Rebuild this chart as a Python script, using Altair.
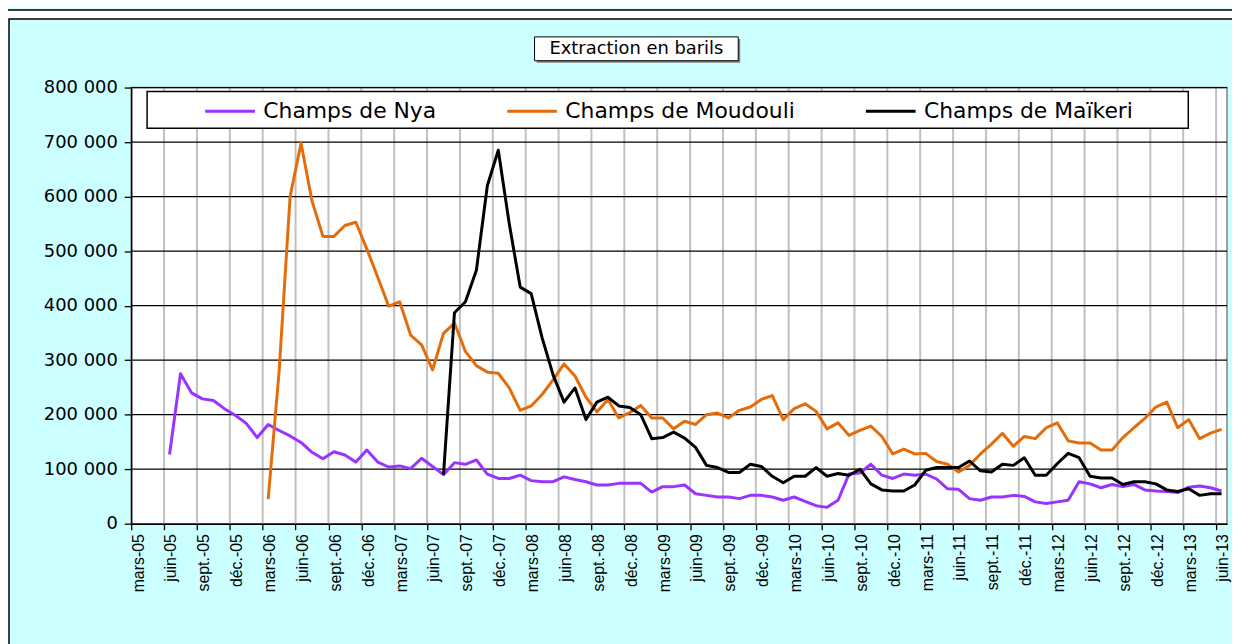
import json
import altair as alt
import pandas as pd

# ---------------- data (values in thousands of barrels) ----------------
tick_labels = [
    "mars-05", "juin-05", "sept.-05", "déc.-05",
    "mars-06", "juin-06", "sept.-06", "déc.-06",
    "mars-07", "juin-07", "sept.-07", "déc.-07",
    "mars-08", "juin-08", "sept.-08", "déc.-08",
    "mars-09", "juin-09", "sept.-09", "déc.-09",
    "mars-10", "juin-10", "sept.-10", "déc.-10",
    "mars-11", "juin-11", "sept.-11", "déc.-11",
    "mars-12", "juin-12", "sept.-12", "déc.-12",
    "mars-13", "juin-13",
]
series = ["Champs de Nya", "Champs de Moudouli", "Champs de Maïkeri"]
colors = ["#9933FF", "#E46C0A", "#000000"]

# month index (0 = mars-05) of the first value of each series
nya_start = 3
nya = [127, 275, 240, 229, 226, 211, 199, 184, 158, 182,
       171, 161, 149, 131, 119, 132, 126, 113, 135, 113,
       104, 106, 101, 120, 105, 90, 112, 109, 117, 91,
       83, 83, 89, 79, 77, 77, 86, 81, 77, 71,
       71, 74, 74, 74, 58, 68, 68, 71, 55, 52,
       49, 49, 46, 52, 52, 49, 43, 49, 41, 33,
       30, 43, 91, 93, 109, 89, 83, 91, 89, 91,
       82, 64, 63, 46, 43, 49, 49, 52, 50, 40,
       37, 40, 43, 77, 73, 66, 72, 68, 72, 62,
       60, 59, 57, 67, 69, 66, 60]

moudouli_start = 12
moudouli = [45, 280, 600, 698, 592, 527, 527, 547, 553, 504,
            452, 399, 407, 346, 328, 282, 349, 368, 316, 290,
            278, 276, 249, 208, 216, 237, 264, 293, 271, 232,
            205, 228, 194, 204, 217, 194, 194, 174, 188, 182,
            200, 203, 194, 208, 214, 228, 235, 191, 211, 220,
            206, 174, 185, 162, 171, 179, 160, 128, 137, 128,
            129, 114, 109, 95, 107, 128, 146, 166, 142, 160,
            156, 176, 185, 152, 148, 148, 135, 135, 158, 176,
            193, 214, 223, 176, 191, 156, 166, 173]

maikeri_start = 28
maikeri = [90, 387, 407, 465, 620, 685, 550, 434, 422, 341,
           273, 223, 249, 191, 223, 232, 216, 213, 200, 156,
           158, 168, 157, 140, 107, 103, 94, 94, 109, 105,
           87, 75, 87, 87, 103, 87, 92, 89, 100, 73,
           62, 60, 60, 71, 98, 103, 103, 103, 115, 97,
           95, 109, 107, 121, 89, 89, 110, 129, 121, 87,
           84, 84, 72, 77, 77, 73, 62, 59, 64, 52,
           55, 55]

y_ticks = [0, 100000, 200000, 300000, 400000, 500000, 600000, 700000, 800000]
chart_title = "Extraction en barils"

# ---------------- build tables ----------------
rows = []
for name, start, vals in [(series[0], nya_start, nya),
                          (series[1], moudouli_start, moudouli),
                          (series[2], maikeri_start, maikeri)]:
    for k, v in enumerate(vals):
        rows.append({"serie": name, "pos": start + k + 0.5, "barils": v * 1000})
df = pd.DataFrame(rows)

x_ticks = [3 * k for k in range(len(tick_labels))]
XMAX = 100
YMAX = y_ticks[-1]
W, H = 1103, 439

xscale = alt.Scale(domain=[0, XMAX], nice=False, zero=False)
yscale = alt.Scale(domain=[0, YMAX], nice=False)

label_expr = json.dumps(tick_labels, ensure_ascii=False) + "[round(datum.value/3)]"

x_axis = alt.Axis(values=x_ticks, labelExpr=label_expr, labelAngle=-90,
                  labelFont="Liberation Sans", labelFontSize=16, labelColor="black",
                  labelPadding=4, labelOffset=7, tickSize=6, tickColor="black", tickWidth=1.3,
                  domainColor="black", domainWidth=1.5, grid=False, zindex=1,
                  labelOverlap=False, labelBound=False, labelFlush=False, title=None)
y_axis = alt.Axis(values=y_ticks,
                  labelExpr="replace(format(datum.value, ','), ',', ' ')",
                  labelFont="DejaVu Sans", labelFontSize=18, labelColor="black",
                  labelPadding=7, tickSize=7, tickColor="black", tickWidth=1.3,
                  domainColor="black", domainWidth=1.5, grid=False, zindex=1,
                  labelOverlap=False, title=None)

one = pd.DataFrame({"k": [0]})

# ---------------- decorative frame ----------------
top_strip = alt.Chart(one).mark_rect(fill="#CCFFFF", stroke="black", strokeWidth=1.5).encode(
    x=alt.value(-130), x2=alt.value(1130), y=alt.value(-95), y2=alt.value(-78))
frame = alt.Chart(one).mark_rect(fill="#CCFFFF", stroke="black", strokeWidth=1.5).encode(
    x=alt.value(-123), x2=alt.value(1130), y=alt.value(-69), y2=alt.value(580))

plot_bg = alt.Chart(pd.DataFrame({"x0": [0], "x1": [XMAX], "y0": [0], "y1": [YMAX]})).mark_rect(
    fill="white", stroke="#808080", strokeWidth=1.5).encode(
    x=alt.X("x0:Q", scale=xscale, axis=x_axis), x2="x1",
    y=alt.Y("y0:Q", scale=yscale, axis=y_axis), y2="y1")

vgrid = alt.Chart(pd.DataFrame({"gx": x_ticks[1:]})).mark_rule(
    color="#C0C0C0", strokeWidth=2).encode(x=alt.X("gx:Q", scale=xscale, axis=x_axis))
hgrid = alt.Chart(pd.DataFrame({"gy": y_ticks[1:]})).mark_rule(
    color="black", strokeWidth=1.3).encode(y=alt.Y("gy:Q", scale=yscale, axis=y_axis))

lines = alt.Chart(df).mark_line(strokeWidth=3, strokeJoin="round").encode(
    x=alt.X("pos:Q", scale=xscale, axis=x_axis),
    y=alt.Y("barils:Q", scale=yscale, axis=y_axis),
    color=alt.Color("serie:N", title=None,
                    scale=alt.Scale(domain=series, range=colors),
                    legend=alt.Legend(orient="none", legendX=73, legendY=-3,
                                      direction="horizontal", columns=3, columnPadding=64,
                                      symbolType="stroke", symbolSize=2500, symbolStrokeWidth=3,
                                      labelFont="DejaVu Sans", labelFontSize=22,
                                      labelColor="black", labelOffset=7, padding=0,
                                      labelLimit=400)),
    order="pos:Q",
)

legend_box = alt.Chart(one).mark_rect(fill="white", stroke="black", strokeWidth=1.5).encode(
    x=alt.value(16), x2=alt.value(1064), y=alt.value(4), y2=alt.value(41))

title_shadow = alt.Chart(one).mark_rect(fill="#7F7F7F").encode(
    x=alt.value(408), x2=alt.value(613), y=alt.value(-49), y2=alt.value(-25))
title_box = alt.Chart(one).mark_rect(fill="white", stroke="black", strokeWidth=1).encode(
    x=alt.value(406), x2=alt.value(611), y=alt.value(-51), y2=alt.value(-27))
title_text = alt.Chart(pd.DataFrame({"t": [chart_title]})).mark_text(
    font="DejaVu Sans", fontSize=18, color="black", align="center", baseline="middle").encode(
    x=alt.value(508.5), y=alt.value(-39), text="t:N")

chart = alt.layer(
    top_strip, frame, plot_bg, vgrid, hgrid, lines, legend_box,
    title_shadow, title_box, title_text,
).properties(
    width=W, height=H,
    padding={"left": 124, "top": 78, "right": 5, "bottom": 119},
    autosize=alt.AutoSizeParams(type="none"),
).configure(background="white").configure_view(strokeOpacity=0)

chart.save("out.html", embed_options={"renderer": "svg", "actions": False})
